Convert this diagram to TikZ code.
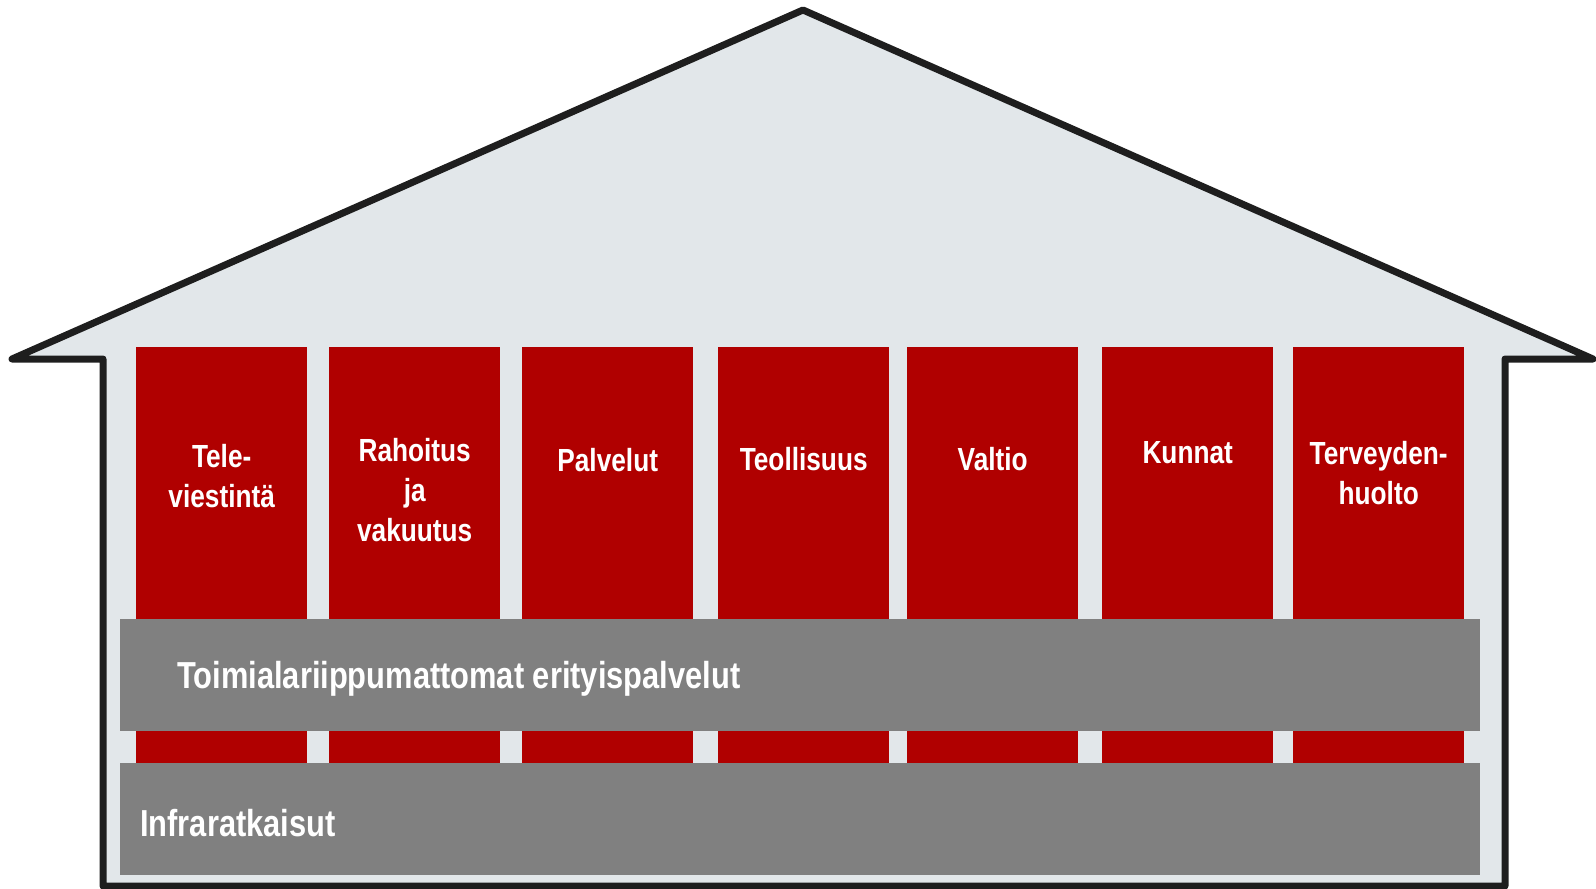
\documentclass[tikz,border=0pt]{standalone}
\usepackage{fontspec}
\usetikzlibrary{positioning}
\newfontfamily\narrowsans{Liberation Sans}[FakeStretch=0.82]
\definecolor{wallgrey}{HTML}{E2E7EA}
\definecolor{pillarred}{HTML}{B00000}
\definecolor{bandgrey}{HTML}{808080}
\definecolor{outlinegrey}{HTML}{1E1E1E}
\begin{document}
\begin{tikzpicture}[x=1pt, y=-1pt, line join=round, line cap=round,
	font=\narrowsans\bfseries,
	pillar/.style={fill=pillarred, inner sep=0, minimum width=171, minimum height=416, anchor=north west},
	pillarlabel/.style={text=white, align=center, inner sep=0, font=\narrowsans\bfseries\fontsize{32}{40}\selectfont},
	band/.style={fill=bandgrey, inner sep=0, minimum width=1360, minimum height=112, anchor=north west},
	bandlabel/.style={text=white, inner sep=0, anchor=west, yshift=-4pt, font=\narrowsans\bfseries\fontsize{37.6}{44}\selectfont}]
	\useasboundingbox (0,0) rectangle (1596,889);
	\draw[fill=wallgrey, draw=outlinegrey, line width=7]
	(103,886)--(103,359)--(12,359)--(803,10)--(1593,359)--(1505,359)--(1505,886)--cycle;
	\foreach \px/\txt/\dy [count=\i] in {136/{Tele-\\viestintä}/97, 329/{Rahoitus\\ja\\vakuutus}/91,
		522/Palvelut/101, 718/Teollisuus/100, 907/Valtio/100, 1102/Kunnat/94, 1293/{Terveyden-\\huolto}/94}
	{
		\node[pillar] (p\i) at (\px,347) {};
		\node[pillarlabel, below=\dy pt of p\i.north] (l\i) {\txt};
	}
	\node[band] (toimiala) at (120,619) {};
	\node[band] (infra) at (120,763) {};
	\node[bandlabel, right=57pt of toimiala.west] (toimialatxt) {Toimialariippumattomat erityispalvelut};
	\node[bandlabel, right=20pt of infra.west] (infratxt) {Infraratkaisut};
\end{tikzpicture}
\end{document}
